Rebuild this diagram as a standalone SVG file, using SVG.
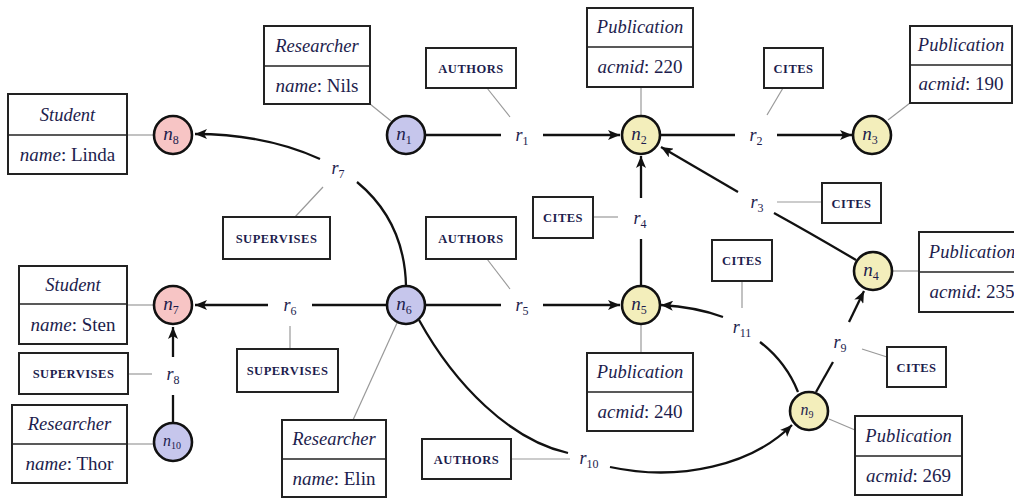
<svg xmlns="http://www.w3.org/2000/svg" width="1014" height="498" viewBox="0 0 1014 498">
<style>
  .edge{fill:none;stroke:#111;stroke-width:2.3;}
  .thin{fill:none;stroke:#999;stroke-width:1.2;}
  .node{stroke:#111;stroke-width:2.6;}
  .stu{fill:#f7c5c5;}
  .res{fill:#c6c6ec;}
  .pub{fill:#f3eebb;}
  .box{fill:#fff;stroke:#222;stroke-width:2;}
  .div{stroke:#222;stroke-width:1.6;}
  .ttl{font-family:"Liberation Serif",serif;font-style:italic;font-size:18.5px;fill:#1d1d4d;text-anchor:middle;}
  .val{font-family:"Liberation Serif",serif;font-size:19px;fill:#1d1d4d;text-anchor:middle;}
  .it{font-style:italic;}
  .lbl{font-family:"Liberation Serif",serif;font-weight:bold;font-size:12.5px;letter-spacing:0.5px;fill:#1d1d4d;text-anchor:middle;}
  .nl{font-family:"Liberation Serif",serif;font-style:italic;font-size:19px;fill:#1d1d4d;text-anchor:middle;}
  .rl{font-family:"Liberation Serif",serif;font-style:italic;font-size:18px;fill:#1d1d4d;text-anchor:middle;}
  .sub{font-style:normal;font-size:12px;}
</style>
<defs>
  <marker id="arr" viewBox="0 0 12 10" refX="12" refY="5" markerWidth="12" markerHeight="10" orient="auto" markerUnits="userSpaceOnUse">
    <path d="M0,0 L12,5 L0,10 L3,5 z" fill="#111"/>
  </marker>
</defs>

<g id="connectors">
  <!-- r1 -->
  <path class="edge" d="M425 135 L501 135"/>
  <path class="edge" d="M543 135 L620 135" marker-end="url(#arr)"/>
  <!-- r2 -->
  <path class="edge" d="M660 135 L735 135"/>
  <path class="edge" d="M777 135 L852 135" marker-end="url(#arr)"/>
  <!-- r3 -->
  <path class="edge" d="M856 260 Q812 234 774 213"/>
  <path class="edge" d="M738 192 L661 147" marker-end="url(#arr)"/>
  <!-- r4 -->
  <path class="edge" d="M641 286 L641 239"/>
  <path class="edge" d="M641 198 L641 156" marker-end="url(#arr)"/>
  <!-- r5 -->
  <path class="edge" d="M425 305 L501 305"/>
  <path class="edge" d="M543 305 L620 305" marker-end="url(#arr)"/>
  <!-- r6 -->
  <path class="edge" d="M387 305 L312 305"/>
  <path class="edge" d="M268 305 L195 305" marker-end="url(#arr)"/>
  <!-- r7 -->
  <path class="edge" d="M406 286 C405 240 386 206 357 182"/>
  <path class="edge" d="M320 159 Q265 134 195 134" marker-end="url(#arr)"/>
  <!-- r8 -->
  <path class="edge" d="M173 422 L173 395"/>
  <path class="edge" d="M173 357 L173 327" marker-end="url(#arr)"/>
  <!-- r9 -->
  <path class="edge" d="M816 392 L833 362"/>
  <path class="edge" d="M849 322 L864 291" marker-end="url(#arr)"/>
  <!-- r10 -->
  <path class="edge" d="M419 320 C455 385 510 440 568 453"/>
  <path class="edge" d="M610 467 C680 482 752 465 792 425" marker-end="url(#arr)"/>
  <!-- r11 -->
  <path class="edge" d="M798 392 Q786 362 760 342"/>
  <path class="edge" d="M723 317 Q696 307 661 305" marker-end="url(#arr)"/>

  <!-- annotation lines -->
  <path class="thin" d="M127 135 L154 135"/>
  <path class="thin" d="M370 104 L391 121"/>
  <path class="thin" d="M487 88 L510 117"/>
  <path class="thin" d="M641 87 L641 116"/>
  <path class="thin" d="M783 88 L767 115"/>
  <path class="thin" d="M910 103 L888 120"/>
  <path class="thin" d="M777 202 L822 202"/>
  <path class="thin" d="M892 271 L919 271"/>
  <path class="thin" d="M593 217 L618 217"/>
  <path class="thin" d="M487 259 L510 289"/>
  <path class="thin" d="M323 187 L295 217"/>
  <path class="thin" d="M127 305 L154 305"/>
  <path class="thin" d="M290 326 L290 349"/>
  <path class="thin" d="M742 281 L742 308"/>
  <path class="thin" d="M128 374 L152 374"/>
  <path class="thin" d="M127 444 L154 444"/>
  <path class="thin" d="M397 323 L353 420"/>
  <path class="thin" d="M641 324 L641 353"/>
  <path class="thin" d="M511 459 L570 459"/>
  <path class="thin" d="M862 349 L887 357"/>
  <path class="thin" d="M829 419 L855 430"/>

  <!-- relationship labels -->
  <text class="rl" x="522" y="141">r<tspan class="sub" dy="4">1</tspan></text>
  <text class="rl" x="756" y="141">r<tspan class="sub" dy="4">2</tspan></text>
  <text class="rl" x="757" y="208">r<tspan class="sub" dy="4">3</tspan></text>
  <text class="rl" x="640" y="224">r<tspan class="sub" dy="4">4</tspan></text>
  <text class="rl" x="522" y="311">r<tspan class="sub" dy="4">5</tspan></text>
  <text class="rl" x="290" y="311">r<tspan class="sub" dy="4">6</tspan></text>
  <text class="rl" x="338" y="174">r<tspan class="sub" dy="4">7</tspan></text>
  <text class="rl" x="173" y="380">r<tspan class="sub" dy="4">8</tspan></text>
  <text class="rl" x="840" y="348">r<tspan class="sub" dy="4">9</tspan></text>
  <text class="rl" x="589" y="464">r<tspan class="sub" dy="4">10</tspan></text>
  <text class="rl" x="742" y="333">r<tspan class="sub" dy="4">11</tspan></text>

  <!-- relationship type boxes -->
  <rect class="box" x="426" y="48" width="90" height="40"/>
  <text class="lbl" x="471" y="72.5">AUTHORS</text>
  <rect class="box" x="764" y="48" width="59" height="40"/>
  <text class="lbl" x="793.5" y="72.5">CITES</text>
  <rect class="box" x="822" y="183" width="59" height="40"/>
  <text class="lbl" x="851.5" y="207.5">CITES</text>
  <rect class="box" x="533" y="197" width="60" height="41"/>
  <text class="lbl" x="563" y="222">CITES</text>
  <rect class="box" x="426" y="217" width="90" height="42"/>
  <text class="lbl" x="471" y="242.5">AUTHORS</text>
  <rect class="box" x="223" y="217" width="107" height="42"/>
  <text class="lbl" x="276.5" y="242.5">SUPERVISES</text>
  <rect class="box" x="712" y="240" width="60" height="41"/>
  <text class="lbl" x="742" y="265">CITES</text>
  <rect class="box" x="237" y="349" width="101" height="43"/>
  <text class="lbl" x="287.5" y="375">SUPERVISES</text>
  <rect class="box" x="887" y="347" width="59" height="40"/>
  <text class="lbl" x="916.5" y="371.5">CITES</text>
  <rect class="box" x="19" y="353" width="109" height="41"/>
  <text class="lbl" x="73.5" y="378">SUPERVISES</text>
  <rect class="box" x="422" y="439" width="89" height="40"/>
  <text class="lbl" x="466.5" y="463.5">AUTHORS</text>
</g>

<!-- property boxes -->
<g id="p8">
  <rect class="box" x="8" y="94" width="119" height="80"/>
  <line class="div" x1="8" y1="135" x2="127" y2="135"/>
  <text class="ttl" x="67.5" y="121">Student</text>
  <text class="val" x="67.5" y="161"><tspan class="it">name</tspan>: Linda</text>
</g>
<g id="p1">
  <rect class="box" x="264" y="26" width="106" height="78"/>
  <line class="div" x1="264" y1="66" x2="370" y2="66"/>
  <text class="ttl" x="317" y="52">Researcher</text>
  <text class="val" x="317" y="92"><tspan class="it">name</tspan>: Nils</text>
</g>
<g id="p2">
  <rect class="box" x="587" y="8" width="106" height="79"/>
  <line class="div" x1="587" y1="47" x2="693" y2="47"/>
  <text class="ttl" x="640" y="33">Publication</text>
  <text class="val" x="640" y="73"><tspan class="it">acmid</tspan>: 220</text>
</g>
<g id="p3">
  <rect class="box" x="910" y="26" width="102" height="77"/>
  <line class="div" x1="910" y1="65" x2="1012" y2="65"/>
  <text class="ttl" x="961" y="51">Publication</text>
  <text class="val" x="961" y="90"><tspan class="it">acmid</tspan>: 190</text>
</g>
<g id="p4">
  <rect class="box" x="919" y="232" width="106" height="80"/>
  <line class="div" x1="919" y1="272" x2="1025" y2="272"/>
  <text class="ttl" x="972" y="258">Publication</text>
  <text class="val" x="972" y="298"><tspan class="it">acmid</tspan>: 235</text>
</g>
<g id="p7">
  <rect class="box" x="19" y="266" width="108" height="78"/>
  <line class="div" x1="19" y1="304" x2="127" y2="304"/>
  <text class="ttl" x="73" y="291">Student</text>
  <text class="val" x="73" y="331"><tspan class="it">name</tspan>: Sten</text>
</g>
<g id="p10">
  <rect class="box" x="12" y="405" width="115" height="78"/>
  <line class="div" x1="12" y1="444" x2="127" y2="444"/>
  <text class="ttl" x="69.5" y="430">Researcher</text>
  <text class="val" x="69.5" y="470"><tspan class="it">name</tspan>: Thor</text>
</g>
<g id="p6">
  <rect class="box" x="282" y="420" width="104" height="77"/>
  <line class="div" x1="282" y1="459" x2="386" y2="459"/>
  <text class="ttl" x="334" y="445">Researcher</text>
  <text class="val" x="334" y="485"><tspan class="it">name</tspan>: Elin</text>
</g>
<g id="p5">
  <rect class="box" x="587" y="353" width="106" height="78"/>
  <line class="div" x1="587" y1="392" x2="693" y2="392"/>
  <text class="ttl" x="640" y="378">Publication</text>
  <text class="val" x="640" y="418"><tspan class="it">acmid</tspan>: 240</text>
</g>
<g id="p9">
  <rect class="box" x="855" y="416" width="107" height="79"/>
  <line class="div" x1="855" y1="456" x2="962" y2="456"/>
  <text class="ttl" x="908.5" y="442">Publication</text>
  <text class="val" x="908.5" y="482"><tspan class="it">acmid</tspan>: 269</text>
</g>

<!-- nodes -->
<g id="n1"><circle class="node res" cx="406" cy="135" r="19"/><text class="nl" x="404" y="140">n<tspan class="sub" dy="4">1</tspan></text></g>
<g id="n2"><circle class="node pub" cx="641" cy="135" r="19"/><text class="nl" x="639" y="140">n<tspan class="sub" dy="4">2</tspan></text></g>
<g id="n3"><circle class="node pub" cx="872" cy="135" r="19"/><text class="nl" x="870" y="140">n<tspan class="sub" dy="4">3</tspan></text></g>
<g id="n4"><circle class="node pub" cx="873" cy="271" r="19"/><text class="nl" x="871" y="276">n<tspan class="sub" dy="4">4</tspan></text></g>
<g id="n5"><circle class="node pub" cx="641" cy="305" r="19"/><text class="nl" x="639" y="310">n<tspan class="sub" dy="4">5</tspan></text></g>
<g id="n6"><circle class="node res" cx="406" cy="305" r="19"/><text class="nl" x="404" y="310">n<tspan class="sub" dy="4">6</tspan></text></g>
<g id="n7"><circle class="node stu" cx="173" cy="305" r="19"/><text class="nl" x="171" y="310">n<tspan class="sub" dy="4">7</tspan></text></g>
<g id="n8"><circle class="node stu" cx="173" cy="135" r="19"/><text class="nl" x="171" y="140">n<tspan class="sub" dy="4">8</tspan></text></g>
<g id="n9"><circle class="node pub" cx="809" cy="411" r="19"/><text class="nl" x="807" y="415" style="font-size:16px">n<tspan class="sub" dy="3" style="font-size:10px">9</tspan></text></g>
<g id="n10"><circle class="node res" cx="173" cy="442" r="19"/><text class="nl" x="172" y="446" style="font-size:16px">n<tspan class="sub" dy="3" style="font-size:10px">10</tspan></text></g>
</svg>
